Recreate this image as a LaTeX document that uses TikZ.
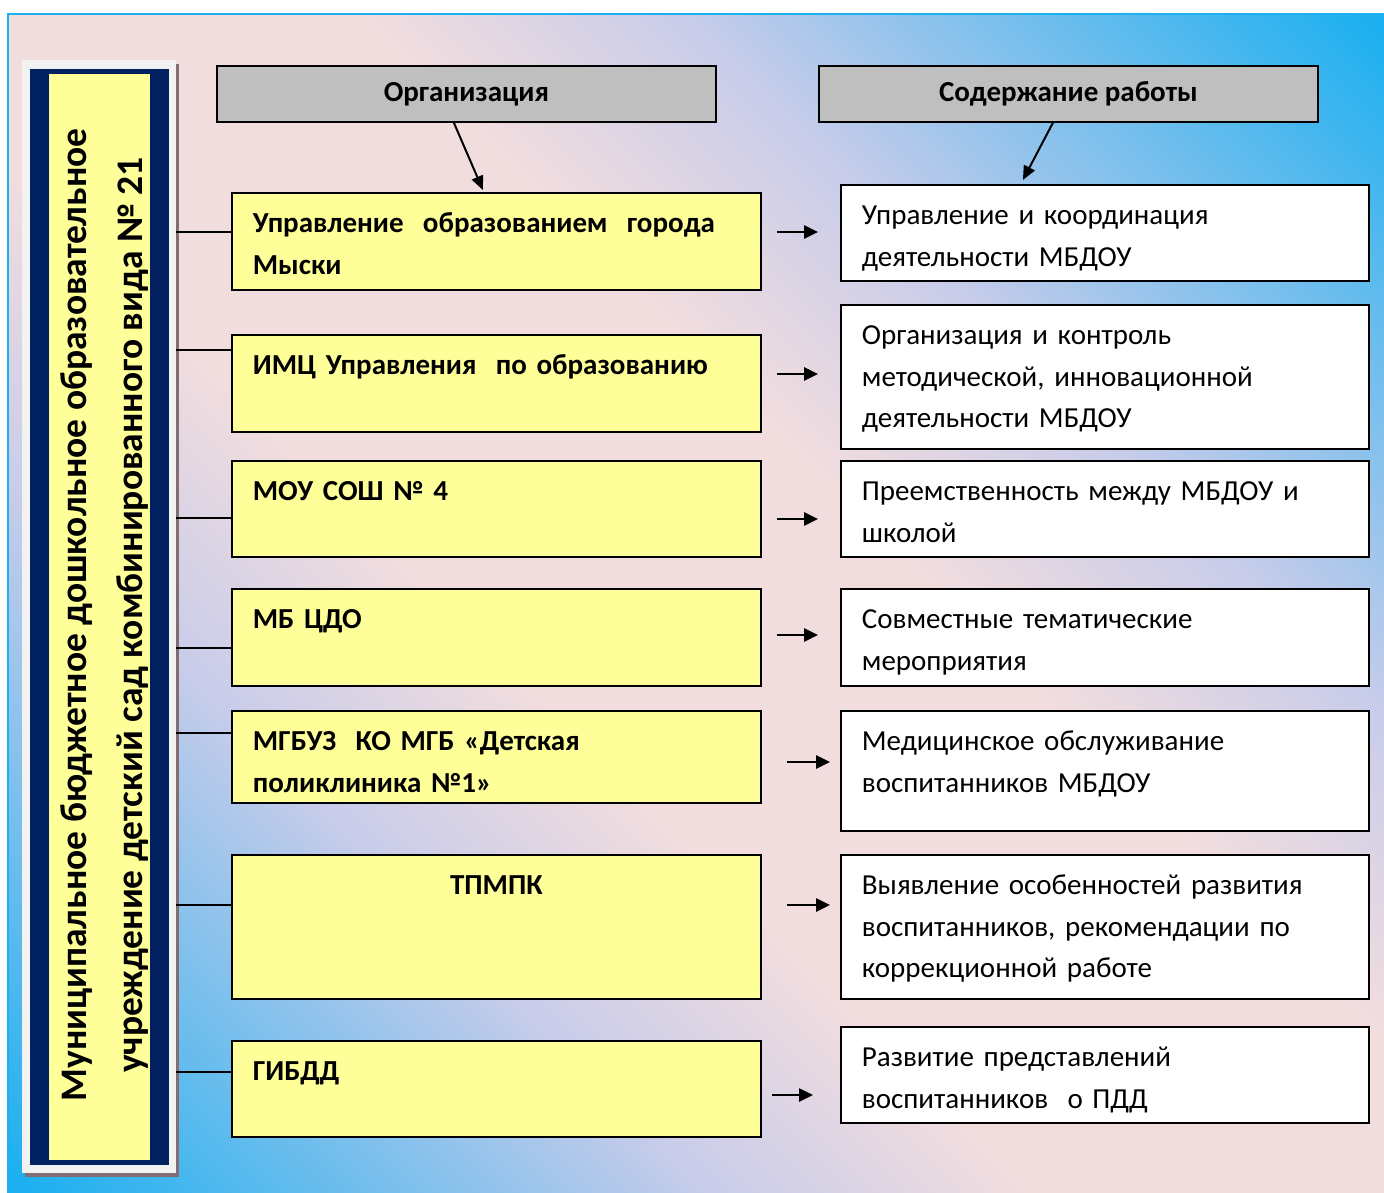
\documentclass[tikz,border=0pt]{standalone}
\usepackage{fontspec}
\setmainfont{Carlito}
\usetikzlibrary{arrows.meta,positioning,calc}

\definecolor{bgpink}{RGB}{242,221,222}
\definecolor{bglilac}{RGB}{200,204,234}
\definecolor{bgsky}{RGB}{28,176,240}
\definecolor{orgyellow}{RGB}{255,255,153}
\definecolor{headgray}{RGB}{191,191,191}
\definecolor{panelnavy}{RGB}{0,32,96}
\definecolor{panelgray}{RGB}{242,242,242}
\definecolor{panelshade}{RGB}{128,110,115}

\pgfdeclarehorizontalshading{diagsky}{100bp}{color(0bp)=(bgsky); color(15bp)=(bgsky); color(34bp)=(bglilac); color(43bp)=(bgpink); color(57bp)=(bgpink); color(66bp)=(bglilac); color(85bp)=(bgsky); color(100bp)=(bgsky)}

\begin{document}
\begin{tikzpicture}[x=1pt, y=-1pt, >={Triangle[length=14pt,width=13pt]},
    orgbox/.style = {draw, line width=1.8pt, fill=orgyellow, anchor=north west, inner xsep=21pt, inner ysep=0pt,
        text width=487pt, text height=40pt, align=left, font=\fontsize{29}{41.5}\selectfont\bfseries},
    workbox/.style = {draw, line width=1.8pt, fill=white, anchor=north west, inner xsep=21pt, inner ysep=0pt,
        text width=486pt, text height=40pt, align=left, font=\fontsize{29}{41.5}\selectfont},
    headbox/.style = {draw, line width=1.8pt, fill=headgray, anchor=north west, minimum width=499pt,
        minimum height=56pt, font=\fontsize{29}{34}\selectfont\bfseries},
    link/.style = {line width=1.5pt},
    flow/.style = {->, line width=2.6pt},
    pointer/.style = {-{Triangle[length=14pt,width=12pt]}, line width=2pt}]

    % Background
    \useasboundingbox (0,0) rectangle (1384,1192);
    \fill[white] (0,0) rectangle (1384,1192);
    \shade[shading=diagsky, shading angle=45] (8,14) rectangle (1384,1192);
    \draw[bgsky, line width=2pt] (8,14) rectangle (1392,1200);

    % Left panel
    \fill[panelshade] (25,64) rectangle (179,1177);
    \node[fill=panelgray, anchor=north west, inner sep=0pt, minimum width=154pt, minimum height=1113pt] (mbdou) at (22,60) {};
    \fill[panelnavy] (30,69) rectangle (169,1165);
    \fill[orgyellow] (49,74) rectangle (150,1160);
    \node[rotate=90, align=center, font=\fontsize{37.5}{56}\selectfont\bfseries] (mbdoutitle) at (105,615)
        {Муниципальное бюджетное дошкольное образовательное\\учреждение детский сад комбинированного вида № 21};

    % Headers
    \node[headbox] (orghead) at (216,65) {Организация};
    \node[headbox] (workhead) at (818,65) {Содержание работы};

    % Organisations
    \node[orgbox, text depth=57pt] (org1) at (231,192) {Управление\ \ образованием\ \ города\\Мыски};
    \node[orgbox, text depth=57pt] (org2) at (231,334) {ИМЦ Управления\ \ по образованию};
    \node[orgbox, text depth=56pt] (org3) at (231,460) {МОУ СОШ № 4};
    \node[orgbox, text depth=57pt] (org4) at (231,588) {МБ ЦДО};
    \node[orgbox, text depth=52pt] (org5) at (231,710) {МГБУЗ\ \ КО МГБ «Детская\\поликлиника №1»};
    \node[orgbox, text depth=104pt, align=center] (org6) at (231,854) {ТПМПК};
    \node[orgbox, text depth=56pt] (org7) at (231,1040) {ГИБДД};

    % Work content
    \node[workbox, text depth=56pt] (work1) at (840,184) {Управление и координация\\деятельности МБДОУ};
    \node[workbox, text depth=104pt] (work2) at (840,304) {Организация и контроль\\методической, инновационной\\деятельности МБДОУ};
    \node[workbox, text depth=56pt] (work3) at (840,460) {Преемственность между МБДОУ и\\школой};
    \node[workbox, text depth=57pt] (work4) at (840,588) {Совместные тематические\\мероприятия};
    \node[workbox, text depth=80pt] (work5) at (840,710) {Медицинское обслуживание\\воспитанников МБДОУ};
    \node[workbox, text depth=104pt] (work6) at (840,854) {Выявление особенностей развития\\воспитанников, рекомендации по\\коррекционной работе};
    \node[workbox, text depth=56pt] (work7) at (840,1026) {Развитие представлений\\воспитанников\ \ о ПДД};

    % Header arrows
    \draw[pointer] ([xshift=-12.5pt]orghead.south) -- ([xshift=-13.5pt, yshift=2pt]org1.north);
    \draw[pointer] ([xshift=-15.5pt]workhead.south) -- ([xshift=-82pt, yshift=4pt]work1.north);

    % Links from the panel
    \foreach \n/\y in {1/232, 2/350, 3/518, 4/648, 5/733, 6/905, 7/1072}
        \draw[link] (mbdou.east |- 0,\y) -- (org\n.west |- 0,\y);

    % Arrows between columns
    \foreach \n/\y/\a/\b in {1/232/15/22, 2/374/15/22, 3/519/15/22, 4/635/15/22, 5/762/25/10, 6/905/25/10, 7/1095/10/27}
        \draw[flow, shorten <=\a pt, shorten >=\b pt] (org\n.east |- 0,\y) -- (work\n.west |- 0,\y);
\end{tikzpicture}
\end{document}
